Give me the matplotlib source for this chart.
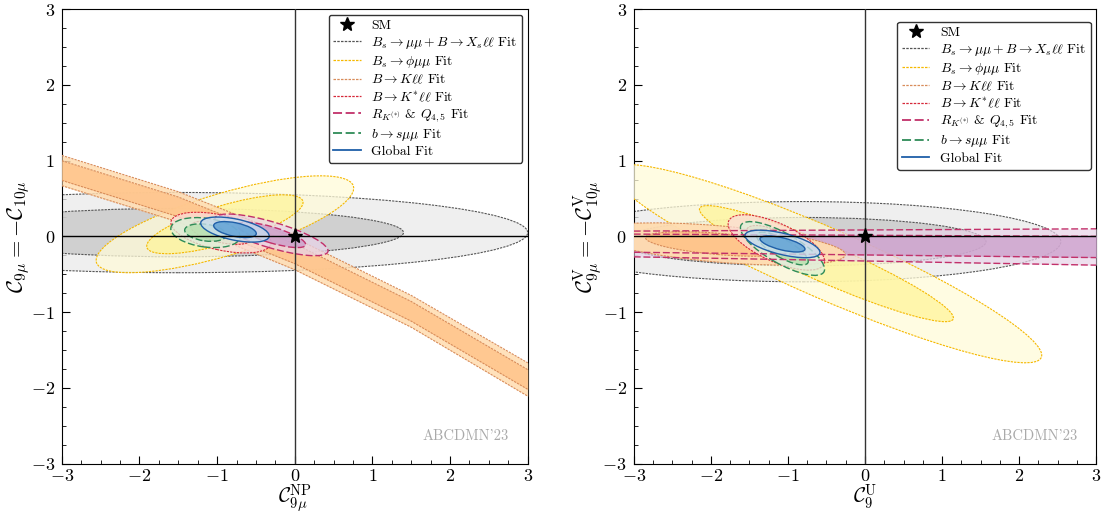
import matplotlib
matplotlib.use("Agg")
import matplotlib.pyplot as plt
from matplotlib.patches import Ellipse
from matplotlib.lines import Line2D

plt.rcParams['mathtext.fontset'] = 'cm'
plt.rcParams['font.family'] = 'serif'
plt.rcParams['font.serif'] = ['cmr10', 'DejaVu Serif']
plt.rcParams['axes.formatter.use_mathtext'] = True

# fit names / legend labels
labels = [r'$B_s\to\mu\mu + B\to X_s\ell\ell$ Fit', r'$B_s\to\phi\mu\mu$ Fit',
          r'$B\to K\ell\ell$ Fit', r'$B\to K^{*}\ell\ell$ Fit',
          r'$R_{K^{(*)}}$ & $Q_{4,5}$ Fit', r'$b\to s\mu\mu$ Fit', 'Global Fit']

# left panel ellipses: gray, yellow, red (K*ll), magenta (R_K), green, blue
L_keys = ['bsmumu', 'phimumu', 'kstar', 'rk', 'bsmm', 'glob']
L_cx = [-1.5, -0.9, -0.95, -0.30, -1.15, -0.77]
L_cy = [0.05, 0.16, 0.05, 0.02, 0.05, 0.09]
L_ang = [0.0, 17.0, -13.0, -17.0, -8.0, -12.0]
L_a1 = [2.9, 1.05, 0.40, 0.46, 0.27, 0.28]
L_b1 = [0.32, 0.25, 0.13, 0.105, 0.11, 0.09]
L_a2 = [4.5, 1.73, 0.66, 0.76, 0.45, 0.45]
L_b2 = [0.53, 0.41, 0.23, 0.17, 0.19, 0.14]

# left panel B -> K ll band (centre line and half widths)
L_band_x = [-3.0, -1.5, 0.0, 1.5, 3.0]
L_band_c = [0.87, 0.39, -0.23, -0.99, -1.89]
L_band_w1 = [0.13, 0.13, 0.13, 0.13, 0.13]
L_band_w2 = [0.20, 0.20, 0.21, 0.21, 0.22]

# right panel ellipses: gray, yellow, orange (K ll), red (K*ll), green, blue
R_keys = ['bsmumu', 'phimumu', 'kll', 'kstar', 'bsmm', 'glob']
R_cx = [-0.8, -0.5, -1.9, -1.15, -1.07, -1.07]
R_cy = [-0.07, -0.36, -0.10, -0.08, -0.16, -0.10]
R_ang = [0.0, -24.0, -5.0, -25.0, -30.0, -14.0]
R_a1 = [2.37, 1.80, 0.95, 0.42, 0.38, 0.30]
R_b1 = [0.32, 0.25, 0.14, 0.15, 0.12, 0.08]
R_a2 = [3.34, 3.05, 1.65, 0.68, 0.62, 0.50]
R_b2 = [0.53, 0.46, 0.24, 0.25, 0.20, 0.14]

# right panel R_K & Q45 band (edges at x=-3 and x=3)
R_band_x = [-3.0, 3.0]
R_band_in_top = [0.03, 0.00]
R_band_in_bot = [-0.21, -0.28]
R_band_out_top = [0.07, 0.10]
R_band_out_bot = [-0.27, -0.38]

style = {
    'bsmumu': dict(edge='#555555', f1='#c6c6c6', f2='#eaeaea', ls=(0, (2, 1)), a=0.75),
    'phimumu': dict(edge='#f5b800', f1='#fff59a', f2='#fffbd9', ls=(0, (2, 1)), a=0.75),
    'kll': dict(edge='#d88c5a', f1='#ffc48a', f2='#ffdcb0', ls=(0, (2, 1)), a=0.95),
    'kstar': dict(edge='#d62839', f1='#f7b9b3', f2='#fbdcd8', ls=(0, (2, 1)), a=0.75),
    'rk': dict(edge='#c2306a', f1='#c99ac9', f2='#e8d3e8', ls=(0, (5, 2)), a=0.75),
    'bsmm': dict(edge='#2e8b57', f1='#b2e0ac', f2='#dcf1da', ls=(0, (5, 2)), a=0.75),
    'glob': dict(edge='#1f5fa8', f1='#5b9fd4', f2='#c6dcef', ls='-', a=0.8),
}
leg_order = ['bsmumu', 'phimumu', 'kll', 'kstar', 'rk', 'bsmm', 'glob']


def draw_ellipse(ax, key, cx, cy, ang, a1, b1, a2, b2, z):
    s = style[key]
    lw = 1.0 if key in ('rk', 'bsmm', 'glob') else 0.8
    for a, b, fc, zz in [(a2, b2, s['f2'], z), (a1, b1, s['f1'], z + 0.1)]:
        ax.add_patch(Ellipse((cx, cy), 2 * a, 2 * b, angle=ang, facecolor=fc,
                             edgecolor='none', alpha=s['a'], zorder=zz))
        ax.add_patch(Ellipse((cx, cy), 2 * a, 2 * b, angle=ang, facecolor='none',
                             edgecolor=s['edge'], lw=lw, ls=s['ls'], zorder=zz + 0.05))


def setup(ax, xlabel, ylabel):
    ax.set_xlim(-3, 3)
    ax.set_ylim(-3, 3)
    ax.set_xticks(range(-3, 4))
    ax.set_yticks(range(-3, 4))
    ax.set_xticks([i * 0.25 for i in range(-12, 13)], minor=True)
    ax.set_yticks([i * 0.25 for i in range(-12, 13)], minor=True)
    ax.tick_params(which='both', direction='in', labelsize=13)
    ax.tick_params(which='major', length=6)
    ax.tick_params(which='minor', length=3)
    ax.tick_params(axis='x', pad=3)
    ax.tick_params(axis='y', pad=5)
    ax.axhline(0, color='black', lw=1.0, zorder=20)
    ax.axvline(0, color='#333333', lw=1.0, zorder=20)
    ax.plot([0], [0], marker='*', color='black', ms=11, ls='none', zorder=30)
    ax.set_xlabel(xlabel, fontsize=15, labelpad=-1)
    ax.set_ylabel(ylabel, fontsize=16, labelpad=-1)
    ax.text(0.96, 0.045, "ABCDMN'23", transform=ax.transAxes, ha='right',
            va='bottom', color='#aaaaaa', fontsize=10.5)
    handles = [Line2D([], [], marker='*', color='black', ms=10, ls='none')]
    for k in leg_order:
        s = style[k]
        handles.append(Line2D([], [], color=s['edge'], lw=1.3 if k in ('rk', 'bsmm', 'glob') else 0.9,
                              ls=s['ls']))
    leg = ax.legend(handles, ['SM'] + labels, loc='upper right', fontsize=9.8,
                    framealpha=1, edgecolor='#333333', handlelength=2.0,
                    handletextpad=0.8, borderpad=0.35, labelspacing=0.22,
                    borderaxespad=0.4)
    leg.set_zorder(40)
    return leg


fig = plt.figure(figsize=(11.04, 5.15), dpi=100)
axL = fig.add_axes([0.056, 0.1, 0.422, 0.882])
axR = fig.add_axes([0.574, 0.1, 0.419, 0.882])

# left panel
for i, k in enumerate(L_keys[:2]):
    draw_ellipse(axL, k, L_cx[i], L_cy[i], L_ang[i], L_a1[i], L_b1[i], L_a2[i], L_b2[i], 2 + i)
s = style['kll']
up2 = [c + w for c, w in zip(L_band_c, L_band_w2)]
lo2 = [c - w for c, w in zip(L_band_c, L_band_w2)]
up1 = [c + w for c, w in zip(L_band_c, L_band_w1)]
lo1 = [c - w for c, w in zip(L_band_c, L_band_w1)]
axL.fill_between(L_band_x, lo2, up2, color=s['f2'], alpha=0.85, lw=0, zorder=4)
axL.fill_between(L_band_x, lo1, up1, color=s['f1'], alpha=0.85, lw=0, zorder=4.1)
for yy in (up2, lo2, up1, lo1):
    axL.plot(L_band_x, yy, color=s['edge'], lw=0.8, ls=s['ls'], zorder=4.2)
for i, k in enumerate(L_keys[2:], start=2):
    draw_ellipse(axL, k, L_cx[i], L_cy[i], L_ang[i], L_a1[i], L_b1[i], L_a2[i], L_b2[i], 3 + i)
setup(axL, r'$\mathcal{C}_{9\mu}^{\rm NP}$', r'$\mathcal{C}_{9\mu} = -\mathcal{C}_{10\mu}$')

# right panel: band first, then ellipses on top
s = style['rk']
axR.fill_between(R_band_x, R_band_out_bot, R_band_out_top, color=s['f2'], alpha=0.7, lw=0, zorder=3.5)
axR.fill_between(R_band_x, R_band_in_bot, R_band_in_top, color=s['f1'], alpha=0.7, lw=0, zorder=3.6)
for yy in (R_band_out_bot, R_band_out_top, R_band_in_bot, R_band_in_top):
    axR.plot(R_band_x, yy, color=s['edge'], lw=1.0, ls=s['ls'], zorder=8.5)
for i, k in enumerate(R_keys):
    z = 2 + i if i < 2 else 4 + i
    draw_ellipse(axR, k, R_cx[i], R_cy[i], R_ang[i], R_a1[i], R_b1[i], R_a2[i], R_b2[i], z)
setup(axR, r'$\mathcal{C}_{9}^{\rm U}$', r'$\mathcal{C}_{9\mu}^{\rm V} = -\mathcal{C}_{10\mu}^{\rm V}$')
axR.get_legend().set_bbox_to_anchor((1.0, 0.985))

fig.savefig('out.png', dpi=100)
